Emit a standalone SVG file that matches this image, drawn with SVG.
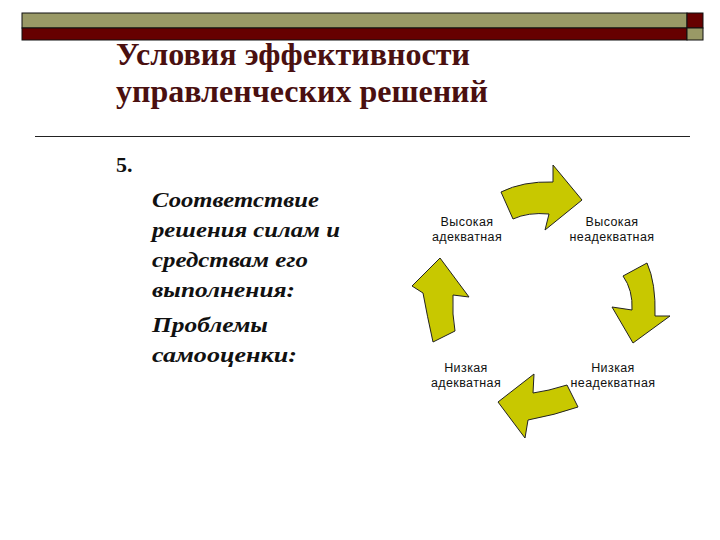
<svg xmlns="http://www.w3.org/2000/svg" width="720" height="540" viewBox="0 0 720 540">
<style>
.title{font-family:"Liberation Serif","Times New Roman",serif;font-weight:bold;font-size:31px;fill:#4a1010}
.num{font-family:"Liberation Serif","Times New Roman",serif;font-weight:bold;font-size:22px;fill:#111}
.body{font-family:"Liberation Serif","Times New Roman",serif;font-weight:bold;font-style:italic;font-size:22px;fill:#111}
.lbl{font-family:"Liberation Sans",Arial,sans-serif;font-size:12.5px;letter-spacing:0.4px;fill:#111;text-anchor:middle}
.arr{fill:#c8c800;stroke:#222;stroke-width:1;stroke-linejoin:miter}
</style>
<rect width="720" height="540" fill="#fff"/>
<g id="topbar">
<rect x="22" y="13" width="665" height="15" fill="#999966" stroke="#111" stroke-width="1"/>
<rect x="22" y="28" width="665" height="12" fill="#660000" stroke="#111" stroke-width="1"/>
<rect x="687" y="13" width="16" height="15" fill="#660000" stroke="#111" stroke-width="1"/>
<rect x="687" y="28" width="16" height="12" fill="#999966" stroke="#111" stroke-width="1"/>
</g>
<g id="title">
<text class="title" x="116" y="65" textLength="354" lengthAdjust="spacingAndGlyphs">Условия эффективности</text>
<text class="title" x="116" y="102" textLength="372" lengthAdjust="spacingAndGlyphs">управленческих решений</text>
</g>
<line x1="35" y1="136.5" x2="690" y2="136.5" stroke="#222" stroke-width="1"/>
<g id="content">
<text class="num" x="116" y="172">5.</text>
<text class="body" x="152" y="207" textLength="167" lengthAdjust="spacingAndGlyphs">Соответствие</text>
<text class="body" x="152" y="237" textLength="188" lengthAdjust="spacingAndGlyphs">решения силам и</text>
<text class="body" x="152" y="267" textLength="156" lengthAdjust="spacingAndGlyphs">средствам его</text>
<text class="body" x="152" y="297" textLength="143" lengthAdjust="spacingAndGlyphs">выполнения:</text>
<text class="body" x="152" y="332" textLength="116" lengthAdjust="spacingAndGlyphs">Проблемы</text>
<text class="body" x="152" y="362" textLength="145" lengthAdjust="spacingAndGlyphs">самооценки:</text>
</g>
<g id="node-high-adequate">
<text class="lbl" x="467" y="226">Высокая</text>
<text class="lbl" x="467" y="241">адекватная</text>
</g>
<g id="node-high-inadequate">
<text class="lbl" x="612" y="226">Высокая</text>
<text class="lbl" x="612" y="241">неадекватная</text>
</g>
<g id="node-low-adequate">
<text class="lbl" x="466" y="372">Низкая</text>
<text class="lbl" x="466" y="387">адекватная</text>
</g>
<g id="node-low-inadequate">
<text class="lbl" x="613" y="372">Низкая</text>
<text class="lbl" x="613" y="387">неадекватная</text>
</g>
<g id="connectors">
<path class="arr" d="M501,192 Q523,181 553,182 L553,165 L582,200 L545,230 L549,214 Q528,212 513,219 Z"/>
<path class="arr" d="M623,276 L647,263 Q656,283 655,316 L670,316 L633,343 L612,307 L632,310 Q633,290 623,276 Z"/>
<path class="arr" d="M534,374 L498,402 L525,438 L528,420 Q555,415 578,407 L567,385 Q548,391 533,393 Z"/>
<path class="arr" d="M440,258 L469,297 L453,295 Q452,315 455,331 L433,342 Q427,315 423,293 L412,286 Z"/>
</g>
</svg>
